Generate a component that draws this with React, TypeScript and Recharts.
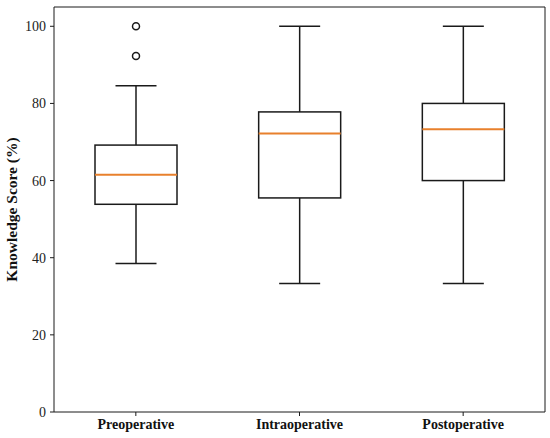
import { Bar, ComposedChart, XAxis, YAxis } from "recharts";

const categories = ["Preoperative", "Intraoperative", "Postoperative"];
const whiskerLow = [38.5, 33.3, 33.3];
const q1 = [53.85, 55.5, 60.0];
const median = [61.5, 72.2, 73.3];
const q3 = [69.2, 77.8, 80.0];
const whiskerHigh = [84.6, 100, 100];
const outliers: number[][] = [[92.3, 100], [], []];
const yTicks = [0, 20, 40, 60, 80, 100];

const data = categories.map((name, i) => ({
  name,
  range: [whiskerLow[i], whiskerHigh[i]],
  q1: q1[i],
  median: median[i],
  q3: q3[i],
  outliers: outliers[i],
}));

const FONT = "'Liberation Serif', 'Times New Roman', serif";
const INK = "#1a1a1a";

// the range bar spans low..high whisker; map other values along that span
function BoxShape(props: any) {
  const { x, y, width, height, payload } = props;
  const [lo, hi] = payload.range;
  const py = (v: number) => y + (height * (hi - v)) / (hi - lo);
  const cx = x + width / 2;
  const boxW = width * 0.5;
  const capW = width * 0.25;
  const yQ1 = py(payload.q1);
  const yQ3 = py(payload.q3);
  return (
    <g>
      <line x1={cx} x2={cx} y1={py(hi)} y2={yQ3} stroke={INK} strokeWidth={1.5} />
      <line x1={cx} x2={cx} y1={yQ1} y2={py(lo)} stroke={INK} strokeWidth={1.5} />
      <line x1={cx - capW / 2} x2={cx + capW / 2} y1={py(hi)} y2={py(hi)} stroke={INK} strokeWidth={1.5} />
      <line x1={cx - capW / 2} x2={cx + capW / 2} y1={py(lo)} y2={py(lo)} stroke={INK} strokeWidth={1.5} />
      <rect x={cx - boxW / 2} y={yQ3} width={boxW} height={yQ1 - yQ3} fill="none" stroke={INK} strokeWidth={1.5} />
      <line
        x1={cx - boxW / 2}
        x2={cx + boxW / 2}
        y1={py(payload.median)}
        y2={py(payload.median)}
        stroke="#e8802c"
        strokeWidth={2}
      />
      {payload.outliers.map((v: number, i: number) => (
        <circle key={i} cx={cx} cy={py(v)} r={3.5} fill="none" stroke={INK} strokeWidth={1.5} />
      ))}
    </g>
  );
}

export default function App() {
  return (
    <div style={{ position: "absolute", left: 0, top: 0, background: "#fff" }}>
      <ComposedChart
        width={550}
        height={438}
        data={data}
        margin={{ top: 6, right: 4, left: 0, bottom: 0 }}
        barCategoryGap={0}
      >
        <XAxis
          dataKey="name"
          xAxisId="top"
          orientation="top"
          height={1}
          tick={false}
          tickLine={false}
          axisLine={{ stroke: INK, strokeWidth: 1 }}
        />
        <YAxis
          yAxisId="right"
          orientation="right"
          width={1}
          tick={false}
          tickLine={false}
          domain={[0, 105]}
          axisLine={{ stroke: INK, strokeWidth: 1 }}
        />
        <XAxis
          dataKey="name"
          height={26}
          tickSize={4}
          tickMargin={3}
          axisLine={{ stroke: INK, strokeWidth: 1 }}
          tickLine={{ stroke: INK }}
          tick={{ fill: "#111", fontSize: 14, fontWeight: "bold", fontFamily: FONT }}
        />
        <YAxis
          width={54}
          domain={[0, 105]}
          ticks={yTicks}
          tickSize={4}
          tickMargin={4}
          axisLine={{ stroke: INK, strokeWidth: 1 }}
          tickLine={{ stroke: INK }}
          tick={{ fill: "#222", fontSize: 14, fontFamily: FONT }}
          label={{
            value: "Knowledge Score (%)",
            angle: -90,
            position: "insideLeft",
            offset: 11,
            style: { textAnchor: "middle", fontSize: 15.5, fontWeight: "bold", fontFamily: FONT, fill: "#111" },
          }}
        />
        <Bar dataKey="range" shape={<BoxShape />} isAnimationActive={false} />
      </ComposedChart>
    </div>
  );
}
